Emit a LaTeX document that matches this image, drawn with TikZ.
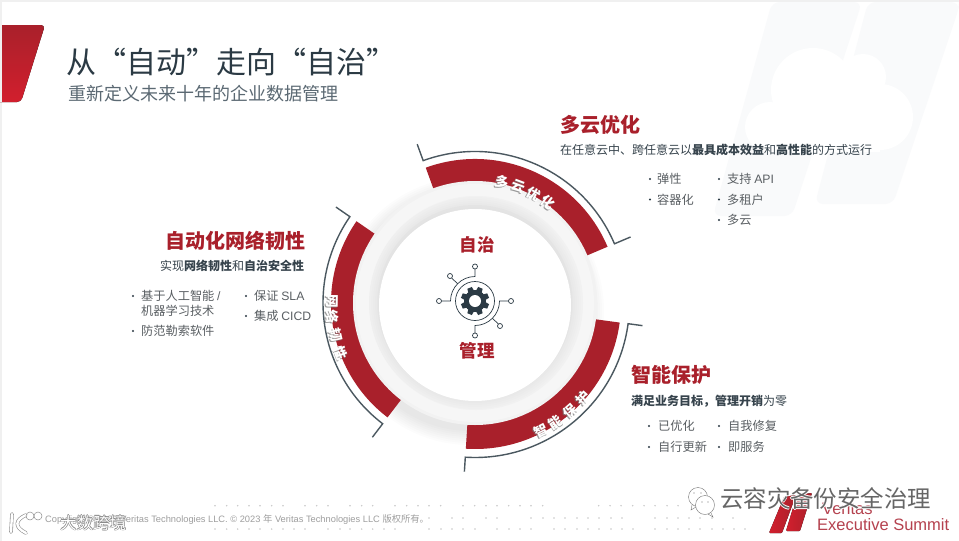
\documentclass[tikz,border=0pt]{standalone}
\usepackage{fontspec}
\usetikzlibrary{calc}
\setmainfont{Noto Sans CJK SC}
\newfontfamily\latfont{Liberation Sans}
\definecolor{vred}{HTML}{A9202B}
\definecolor{vbright}{HTML}{D21F2D}
\definecolor{vink}{HTML}{2B3A44}
\definecolor{vlead}{HTML}{36434C}
\definecolor{vgray}{HTML}{5A5F63}
\definecolor{vsub}{HTML}{5B6973}
\definecolor{vpale}{HTML}{F9FAFB}
\definecolor{vsummit}{HTML}{B5424F}
\newcommand{\fsz}[1]{\fontsize{#1}{#1}\selectfont}
\tikzset{
  basetext/.style={inner sep=0pt,anchor=base west,yshift=-.37*#1,font=\fsz{#1}},
  headtext/.style={basetext=20,text=vred,font=\bfseries\fsz{20}},
  leadtext/.style={basetext=12,text=vlead},
  itemtext/.style={basetext=12.2,text=vgray},
  hubtext/.style={inner sep=0pt,text=vred,font=\bfseries\fsz{17.5}},
  bandtext/.style={inner sep=0pt,text=white,font=\bfseries\fsz{13.5}},
  bandshade/.style={inner sep=0pt,text=black!55,opacity=.7,font=\bfseries\fsz{13.5}},
  redband/.style={fill=vred},
  hookline/.style={draw=vink!85,line width=1.4pt},
  wireline/.style={draw=vink,line width=.7pt},
  padnode/.style={draw=vink,fill=white,line width=.7pt},
  gridpt/.style={fill=black!22}
}
\begin{document}
\begin{tikzpicture}[x=1pt,y=1pt]
  \useasboundingbox (0,-541) rectangle (959,0);
  \fill[white] (0,-541) rectangle (959,0);
  \fill[black!6] (0,-541) rectangle (2,0);
  \fill[black!6] (0,-2) rectangle (959,0);
  % pale mark with cloud, top right
  \fill[vpale,rounded corners=8pt] (772,-2) -- (862,-2) -- (792,-216) -- (713,-216) -- cycle;
  \fill[vpale,rounded corners=8pt] (868,-2) -- (959,-2) -- (959,-8) -- (893,-204) -- (815,-204) -- cycle;
  \fill[white] (813,-90) circle (42);
  \fill[white] (863,-77) circle (23);
  \fill[white] (880,-117) circle (33);
  \fill[white] (770,-127) circle (25);
  \fill[white] (770,-152) rectangle (880,-112);
  % corner block
  \fill[top color=vred,bottom color=vbright,rounded corners=4pt]
    (-6,-25) -- (45,-25) -- (21,-102) -- (-6,-102) -- cycle;
  \fill[black!6] (0,-102) rectangle (2,-25);
  % title
  \node[basetext=30,text=vink] (title) at (66,-62) {从“自动”走向“自治”};
  \node[basetext=18,text=vsub] (subtitle) at (68,-94) {重新定义未来十年的企业数据管理};
  % dial
  \begin{scope}[shift={(475,-303)}]
    \foreach \r in {134,132,...,120}
      \fill[black,opacity=.012] (-5,-8) circle (\r);
    % red bands and hook lines
    \foreach \a/\b/\r/\h in {110/23/144/151.5, -7.7/-93.6/146/154.5, 145.4/232.6/144/152}
    {
      \fill[redband] (\a:\r) arc (\a:\b:\r) -- (\b:110) arc (\b:\a:110) -- cycle;
      \draw[hookline] (\a:169) -- (\a:\h) arc (\a:\b:\h) -- (\b:169);
    }
    \fill[black!5] (0,0) circle (122);
    \fill[black!3.5] (0,0) circle (119);
    \fill[black!5.5] (1,0) circle (107);
    \foreach \r in {106,104,...,96}
      \fill[black,opacity=.008] (0,0) circle (\r);
    \fill[black!11,opacity=.6] (0,0.5) circle (97.5);
    \fill[white] (0,-2) circle (96);
    % labels on the bands
    \foreach \ch/\ang [count=\i] in {多/77.5,云/69.5,优/61.8,化/54}
    {
      \node[bandshade,rotate=\ang-90] at ($(\ang:124)+(-.8,-.8)$) {\ch};
      \node[bandtext,rotate=\ang-90] (cloudch\i) at (\ang:124) {\ch};
    }
    \foreach \ch/\ang [count=\i] in {网/179.3,络/185.6,韧/193,性/200.6}
    {
      \node[bandshade,rotate=\ang+90] at ($(\ang:143)+(-.8,-.8)$) {\ch};
      \node[bandtext,rotate=\ang+90] (cyberch\i) at (\ang:143) {\ch};
    }
    \foreach \ch/\ang [count=\i] in {智/-62.6,能/-56,保/-48.8,护/-41.3}
    {
      \node[bandshade,rotate=\ang+90] at ($(\ang:144)+(-.8,-.8)$) {\ch};
      \node[bandtext,rotate=\ang+90] (guardch\i) at (\ang:144) {\ch};
    }
  \end{scope}
  \node[hubtext] (hubtop) at (477,-245) {自治};
  \node[hubtext] (hubbottom) at (477,-351) {管理};
  % gear icon
  \begin{scope}[shift={(475,-301)}]
    \draw[wireline] (0,0) circle (19.5);
    \foreach \s in {0,180}
    {
      \begin{scope}[rotate=\s]
        \draw[wireline] (-33.5,0) -- (-24.5,0) arc (180:90:24.5) -- (0,32);
        \draw[wireline] (135:24.5) -- (-23.5,23);
        \draw[padnode] (-36,0) circle (2.5);
        \draw[padnode] (0,34.5) circle (2.5);
        \draw[padnode] (-25,25) circle (2.5);
      \end{scope}
    }
    \foreach \t in {0,45,...,315}
      \fill[vink,rotate=\t+22.5] (-3.2,9) -- (-2.4,14.2) -- (2.4,14.2) -- (3.2,9) -- cycle;
    \fill[vink] (0,0) circle (11);
    \fill[white] (0,0) circle (6);
  \end{scope}
  % multi-cloud block
  \node[headtext] (cloudhead) at (560,-125) {多云优化};
  \node[leadtext] (cloudlead) at (560,-150) {在任意云中、跨任意云以\textbf{最具成本效益}和\textbf{高性能}的方式运行};
  % cyber resilience block
  \node[headtext] (cyberhead) at (165,-241) {自动化网络韧性};
  \node[leadtext] (cyberlead) at (160,-266) {实现\textbf{网络韧性}和\textbf{自治安全性}};
  % protection block
  \node[headtext] (guardhead) at (631,-375) {智能保护};
  \node[leadtext] (guardlead) at (631,-401) {\textbf{满足业务目标，管理开销}为零};
  % list items
  \foreach \bx/\tx/\ty/\tn [count=\i] in {
      650/657/179/弹性, 650/657/199.5/容器化,
      719/727/179/{支持 {\latfont API}}, 719/727/199.5/多租户, 719/727/220/多云,
      133/141/296/{基于人工智能 {\latfont /}}, 133/141/331/防范勒索软件,
      246/254/296/{保证 {\latfont SLA}}, 246/254/316/{集成 {\latfont CICD}},
      649/658/426/已优化, 649/658/447/自行更新,
      719/728/426/自我修复, 719/728/447/即服务}
  {
    \fill[vink] (\bx,-\ty) circle (1.2);
    \node[itemtext] (item\i) at (\tx,-\ty) {\tn};
  }
  \node[itemtext] (itemwrap) at (141,-311) {机器学习技术};
  % dots along the foot
  \foreach \px in {215,226.7,237.7,249,260,271.7,283,305,316.7,328,350,361.7,372.7,395,406.7,418,429,440.7,463,474.7,486,497,508.7,520,531,542.7,598.7,610,621,632.7,644,655,667,678}
    \fill[gridpt] (\px,-505.7) circle (.8);
  \foreach \px in {418,429,452,463,486,497,531,543,554,565,577,588,599,611,622,655,667,678,689,700,712,733}
    \fill[gridpt] (\px,-518) circle (.8);
  \foreach \px in {215,226.7,237.7,249,260,271.7,283,294,305,328,340,350,361.7,372.7,384,395,429,441,452,463,475,497,509,520,531,554,565,577,588,599,611,622,633,655,667,678,689,700,712,723,734,745}
    \fill[gridpt] (\px,-529) circle (.8);
  % footer
  \node[basetext=9.3,text=black!38,font=\latfont\fsz{9.3}] (footer) at (45,-519)
    {Copyright © 2023 Veritas Technologies LLC. © 2023 {\rmfamily 年} Veritas Technologies LLC {\rmfamily 版权所有。}};
  % summit logo
  \fill[left color=vbright,right color=vred,rounded corners=1pt] (769,-533) -- (782,-533) -- (796,-495) -- (784,-497) -- cycle;
  \fill[left color=vbright,right color=vred,rounded corners=1pt] (786,-531) -- (800,-531) -- (812,-493) -- (797,-495) -- cycle;
  \node[basetext=16.5,text=vsummit,font=\latfont\fsz{16.5}] (veritas) at (822,-508) {Veritas};
  \node[basetext=16.5,text=vsummit,font=\latfont\fsz{16.5}] (summit) at (817,-524) {Executive Summit};
  % watermark, lower left
  \foreach \dx/\dy in {-.7/0,.7/0,0/-.7,0/.7}
    \node[basetext=16.5,text=black!50] at (60+\dx,-523+\dy) {大数跨境};
  \node[basetext=16.5,text=white] (stamp) at (60,-523) {大数跨境};
  \draw[black!45,line width=3.6pt,line cap=round] (12,-514) -- (11,-532);
  \draw[black!45,line width=3.6pt,line cap=round] (26,-515) .. controls (15,-520) and (14,-527) .. (26,-533);
  \draw[white,line width=2.4pt,line cap=round] (12,-514) -- (11,-532);
  \draw[white,line width=2.4pt,line cap=round] (26,-515) .. controls (15,-520) and (14,-527) .. (26,-533);
  \draw[black!45,fill=white,fill opacity=.6,line width=.5pt] (30,-516) circle (4);
  \draw[black!45,fill=white,fill opacity=.6,line width=.5pt] (38,-516) circle (4);
  % watermark, lower right
  \draw[black!55,fill=white,line width=.4pt] (698,-497) circle (9.5);
  \draw[black!55,line width=.4pt] (692,-505) -- (691,-510) -- (696,-507);
  \draw[black!55,fill=white,line width=.4pt] (705,-505) circle (9.5);
  \draw[black!55,line width=.4pt] (711,-513) -- (713,-517) -- (708,-514);
  \foreach \ex/\ey in {694/-493,701/-493,702/-502,708/-502}
    \fill[black!55] (\ex,\ey) circle (.6);
  \foreach \dx/\dy in {-.8/0,.8/0,0/-.8,0/.8}
    \node[basetext=23.4,text=white] at (720+\dx,-499+\dy) {云容灾备份安全治理};
  \node[basetext=23.4,text=black!60] (chanmark) at (720,-499) {云容灾备份安全治理};
\end{tikzpicture}
\end{document}
